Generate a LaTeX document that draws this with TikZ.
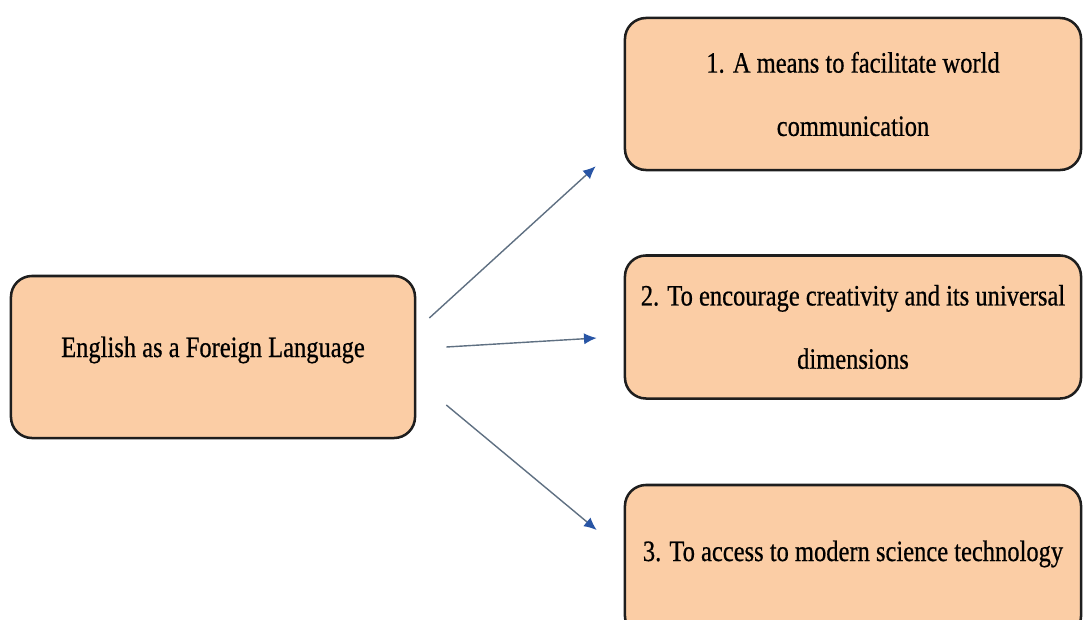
\documentclass[tikz,border=0pt]{standalone}
\usepackage{fontspec}
\setmainfont{Liberation Serif}[FakeStretch=0.83, FakeBold=0.6]
\usetikzlibrary{arrows.meta}
\definecolor{peach}{RGB}{251,205,165}
\definecolor{rim}{RGB}{30,30,30}
\definecolor{shaft}{RGB}{95,112,130}
\definecolor{tipblue}{RGB}{40,85,165}
\tikzset{
  box/.style={draw=rim, fill=peach, line width=1.8pt, rounded corners=15pt,
    align=center, font=\fontsize{21}{45}\selectfont, inner sep=0pt},
  oneline/.style={text height=14pt, text depth=14pt},
  arr/.style={draw=shaft, line width=1pt, -{Latex[length=9pt,width=8pt,color=tipblue]}}
}
\begin{document}
\begin{tikzpicture}[x=0.025cm, y=-0.025cm]
\useasboundingbox (0,0) rectangle (1083,619);
\clip (0,0) rectangle (1083,619);
\node[box, oneline, minimum width=10.1cm, minimum height=4.05cm] (a) at (213,357) {English as a Foreign Language};
\node[box, minimum width=11.4cm, minimum height=3.8cm] (b) at (853,94) {1. A means to facilitate world\\communication};
\node[box, minimum width=11.4cm, minimum height=3.575cm] (c) at (853,327) {2. To encourage creativity and its universal\\dimensions};
\node[box, oneline, minimum width=11.4cm, minimum height=3.8cm] (d) at (853,561) {3. To access to modern science technology};
\draw[arr] ([shift={(13,-39)}]a.east) -- ([shift={(-28,-5)}]b.south west);
\draw[arr] ([shift={(30,-10)}]a.east) -- ([shift={(-27,11)}]c.west);
\draw[arr] ([shift={(30,48)}]a.east) -- ([shift={(-27,-31)}]d.west);
\end{tikzpicture}
\end{document}
